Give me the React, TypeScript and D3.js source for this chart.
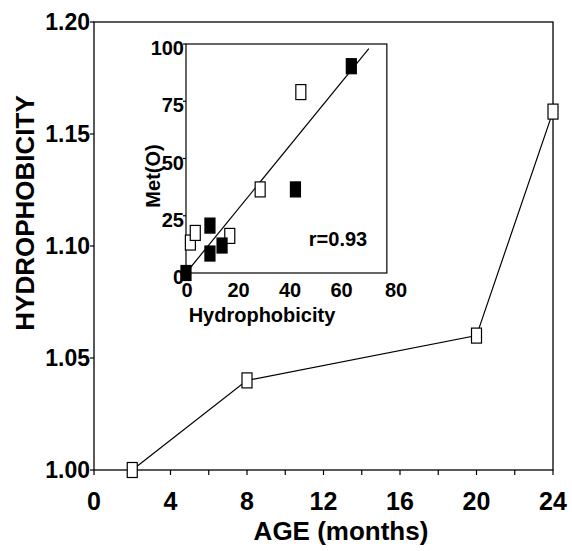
import React from "react";
import * as d3 from "d3";

// main panel
const ageMonths = [2, 8, 20, 24];
const hydrophobicity = [1.0, 1.04, 1.06, 1.16];
const xTicks = [0, 4, 8, 12, 16, 20, 24];
const xMinorTicks = [0, 2, 4, 6, 8, 10, 12, 14, 16, 18, 20, 22, 24];
const yTicks = [1.0, 1.05, 1.1, 1.15, 1.2];

// inset
const openHydro = [1.7, 3.6, 17, 28.8, 44.6];
const openMetO = [13.3, 17.5, 16.2, 36.5, 79];
const filledHydro = [0, 9.3, 9.3, 14, 42.5, 64.2];
const filledMetO = [0, 20.7, 8.5, 12, 36.5, 90.3];
const insetXTicks = [0, 20, 40, 60, 80];
const insetYTicks = [0, 25, 50, 75, 100];
const fitSlope = 1.38;
const fitIntercept = 0;
const fitRange = [0, 71];
const rLabel = "r=0.93";

const FONT = "Arial, 'Liberation Sans', Helvetica, sans-serif";
const MW = 10;
const MH = 15;

export default function App() {
  if (typeof document !== "undefined") document.body.style.margin = "0";

  const x = d3.scaleLinear().domain([0, 24]).range([94, 553]);
  const y = d3.scaleLinear().domain([1.0, 1.2]).range([470, 22]);

  const ix = d3.scaleLinear().domain([0, 80]).range([186, 392]);
  const iy = d3.scaleLinear().domain([0, 100]).range([273, 44]);
  const ixMax = 78;

  const mainLine = d3
    .line<number>()
    .x((_, i) => x(ageMonths[i]))
    .y((d) => y(d))(hydrophobicity);

  const fitLine = d3
    .line<number>()
    .x((d) => ix(d))
    .y((d) => iy(fitSlope * d + fitIntercept))(fitRange);

  return (
    <svg width={572} height={551} style={{ display: "block", background: "#fff" }} fontFamily={FONT}>
      {/* main frame */}
      <rect
        x={x(0)}
        y={y(1.2)}
        width={x(24) - x(0)}
        height={y(1.0) - y(1.2)}
        fill="none"
        stroke="#000"
        strokeWidth={1.3}
      />
      {xMinorTicks.map((t) => (
        <line key={"xm" + t} x1={x(t)} x2={x(t)} y1={y(1.0)} y2={y(1.0) + 5} stroke="#000" strokeWidth={1.2} />
      ))}
      {xTicks.map((t) => (
        <text key={"xt" + t} x={x(t)} y={510} textAnchor="middle" fontSize={25} fontWeight="bold">
          {t}
        </text>
      ))}
      {yTicks.map((t) => (
        <g key={"yt" + t}>
          <line x1={x(0) - 4} x2={x(0)} y1={y(t)} y2={y(t)} stroke="#000" strokeWidth={1.2} />
          <text x={90} y={y(t)} dy="0.36em" textAnchor="end" fontSize={23} fontWeight="bold">
            {t.toFixed(2)}
          </text>
        </g>
      ))}
      <text x={341} y={540} textAnchor="middle" fontSize={26} fontWeight="bold">
        AGE (months)
      </text>
      <text
        transform="translate(34,213) rotate(-90)"
        textAnchor="middle"
        fontSize={26}
        fontWeight="bold"
      >
        HYDROPHOBICITY
      </text>

      <path d={mainLine || ""} fill="none" stroke="#000" strokeWidth={1.2} />
      {ageMonths.map((m, i) => (
        <rect
          key={"mk" + i}
          x={x(m) - MW / 2}
          y={y(hydrophobicity[i]) - MH / 2}
          width={MW}
          height={MH}
          fill="#fff"
          stroke="#000"
          strokeWidth={1.2}
        />
      ))}

      {/* inset */}
      <rect
        x={ix(0)}
        y={iy(100)}
        width={ix(ixMax) - ix(0)}
        height={iy(0) - iy(100)}
        fill="#fff"
        stroke="#000"
        strokeWidth={1.2}
      />
      {insetYTicks.map((t) => (
        <g key={"iyt" + t}>
          <line x1={ix(0) - 3} x2={ix(0)} y1={iy(t)} y2={iy(t)} stroke="#000" strokeWidth={1.2} />
          <text x={184} y={iy(t) + 4} dy="0.36em" textAnchor="end" fontSize={20} fontWeight="bold">
            {t}
          </text>
        </g>
      ))}
      {insetXTicks.map((t) => (
        <text key={"ixt" + t} x={ix(t) + (t === 80 ? 4 : 1)} y={297} textAnchor="middle" fontSize={20} fontWeight="bold">
          {t}
        </text>
      ))}
      <text x={262} y={322} textAnchor="middle" fontSize={20} fontWeight="bold">
        Hydrophobicity
      </text>
      <text transform="translate(160,176) rotate(-90)" textAnchor="middle" fontSize={20} fontWeight="bold">
        Met(O)
      </text>
      <path d={fitLine || ""} fill="none" stroke="#000" strokeWidth={1.2} />
      {openHydro.map((h, i) => (
        <rect
          key={"op" + i}
          x={ix(h) - MW / 2}
          y={iy(openMetO[i]) - MH / 2}
          width={MW}
          height={MH}
          fill="#fff"
          stroke="#000"
          strokeWidth={1.2}
        />
      ))}
      {filledHydro.map((h, i) => (
        <rect
          key={"fp" + i}
          x={ix(h) - MW / 2}
          y={iy(filledMetO[i]) - MH / 2}
          width={MW}
          height={MH}
          fill="#000"
          stroke="#000"
          strokeWidth={1.2}
        />
      ))}
      <text x={338} y={246} textAnchor="middle" fontSize={20} fontWeight="bold">
        {rLabel}
      </text>
    </svg>
  );
}
